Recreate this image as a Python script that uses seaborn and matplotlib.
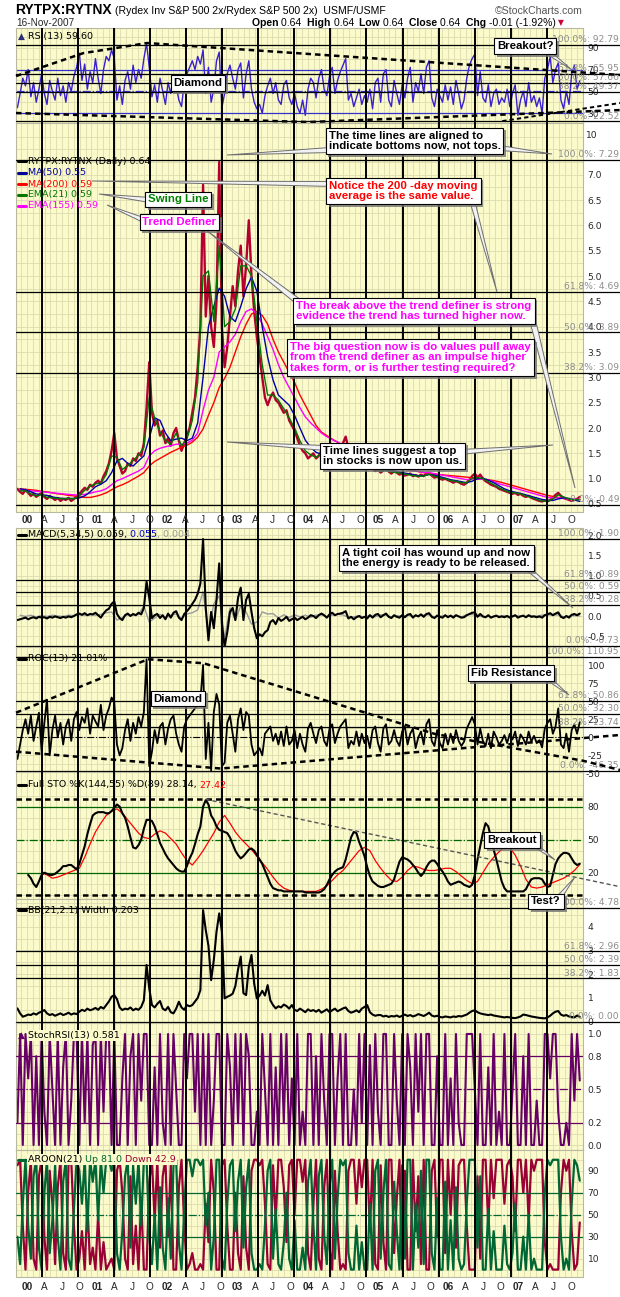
import matplotlib
matplotlib.use("Agg")
import numpy as np
import pandas as pd
import matplotlib.pyplot as plt
import seaborn as sns
from matplotlib.lines import Line2D
from matplotlib.patches import Polygon
from matplotlib.transforms import blended_transform_factory
import matplotlib.patheffects as pe

# ============================================================
# DATA (bi-weekly / 4-weekly)
# ============================================================

dates14 = pd.date_range(end="2007-11-16", periods=210, freq="14D")
dates28 = pd.date_range(end="2007-11-16", periods=105, freq="28D")

close = [0.80, 0.74, 0.70, 0.78, 0.72, 0.66, 0.70, 0.64, 0.68, 0.72,
         0.64, 0.60, 0.66, 0.62, 0.58, 0.62, 0.56, 0.60, 0.58, 0.62,
         0.56, 0.60, 0.64, 0.70, 0.76, 0.82, 0.78, 0.88, 0.84, 0.92,
         0.96, 0.90, 1.05, 1.15, 1.30, 1.55, 1.90, 1.40, 1.25, 1.10,
         1.15, 1.30, 1.25, 1.40, 1.35, 1.50, 1.45, 1.70, 2.40, 3.30,
         2.30, 2.05, 2.15, 1.85, 1.95, 1.70, 1.80, 1.65, 1.90, 2.00,
         1.75, 1.55, 1.70, 1.85, 2.00, 2.30, 2.60, 3.20, 4.00, 6.80,
         4.20, 5.00, 4.00, 3.60, 4.50, 7.25, 4.00, 3.20, 3.60, 4.20,
         4.80, 4.40, 5.10, 5.60, 4.60, 5.20, 6.10, 5.00, 4.30, 3.80,
         3.40, 3.00, 2.60, 2.45, 2.60, 2.70, 2.55, 2.50, 2.40, 2.30,
         2.35, 2.15, 2.05, 1.95, 1.80, 1.65, 1.55, 1.50, 1.40, 1.45,
         1.50, 1.40, 1.45, 1.55, 1.50, 1.45, 1.55, 1.60, 1.50, 1.55,
         1.60, 1.70, 1.83, 1.60, 1.50, 1.45, 1.40, 1.35, 1.30, 1.28,
         1.25, 1.22, 1.20, 1.15, 1.18, 1.12, 1.16, 1.20, 1.14, 1.10,
         1.15, 1.12, 1.08, 1.10, 1.06, 1.08, 1.10, 1.05, 1.07, 1.04,
         1.08, 1.05, 1.10, 1.12, 1.06, 1.02, 1.04, 1.00, 0.98, 1.00,
         0.97, 0.95, 0.92, 0.95, 0.93, 0.90, 0.88, 0.92, 0.98, 1.05,
         1.10, 1.02, 1.08, 1.00, 0.95, 0.92, 0.88, 0.86, 0.84, 0.80,
         0.78, 0.76, 0.74, 0.72, 0.70, 0.72, 0.68, 0.70, 0.66, 0.64,
         0.66, 0.62, 0.60, 0.58, 0.56, 0.55, 0.57, 0.55, 0.58, 0.62,
         0.68, 0.72, 0.66, 0.62, 0.60, 0.58, 0.56, 0.58, 0.60, 0.64]

ma50 = [0.80, 0.78, 0.74, 0.70, 0.68, 0.67, 0.64, 0.62, 0.61, 0.61,
        0.61, 0.62, 0.66, 0.74, 0.84, 0.89, 0.96, 1.12, 1.35, 1.40,
        1.30, 1.25, 1.35, 1.45, 1.80, 2.20, 2.15, 1.90, 1.75, 1.78,
        1.80, 1.75, 1.80, 2.10, 3.00, 4.00, 4.40, 4.76, 4.60, 4.20,
        4.10, 4.40, 4.75, 4.98, 4.70, 4.00, 3.40, 2.95, 2.65, 2.55,
        2.45, 2.25, 2.00, 1.76, 1.62, 1.52, 1.48, 1.50, 1.52, 1.54,
        1.58, 1.62, 1.58, 1.50, 1.40, 1.30, 1.24, 1.18, 1.16, 1.16,
        1.14, 1.12, 1.10, 1.08, 1.06, 1.06, 1.08, 1.07, 1.04, 1.01,
        0.98, 0.96, 0.94, 0.92, 0.95, 1.00, 1.01, 0.97, 0.92, 0.86,
        0.80, 0.76, 0.73, 0.71, 0.68, 0.65, 0.62, 0.59, 0.57, 0.57,
        0.60, 0.62, 0.61, 0.58, 0.55]

ma200 = [0.80, 0.79, 0.78, 0.77, 0.75, 0.74, 0.72, 0.70, 0.69, 0.67,
         0.66, 0.64, 0.63, 0.63, 0.65, 0.68, 0.72, 0.78, 0.84, 0.88,
         0.93, 0.99, 1.05, 1.12, 1.25, 1.34, 1.40, 1.46, 1.52, 1.57,
         1.62, 1.66, 1.72, 1.82, 1.98, 2.25, 2.50, 2.80, 2.98, 3.20,
         3.50, 3.80, 4.05, 4.25, 4.30, 4.22, 4.05, 3.75, 3.50, 3.30,
         3.10, 2.90, 2.65, 2.45, 2.25, 2.05, 1.92, 1.85, 1.78, 1.72,
         1.65, 1.60, 1.56, 1.52, 1.48, 1.44, 1.40, 1.36, 1.32, 1.28,
         1.24, 1.21, 1.18, 1.16, 1.14, 1.12, 1.10, 1.09, 1.08, 1.07,
         1.06, 1.05, 1.04, 1.03, 1.02, 1.00, 0.99, 0.98, 0.96, 0.94,
         0.91, 0.88, 0.85, 0.82, 0.79, 0.76, 0.73, 0.70, 0.67, 0.65,
         0.63, 0.61, 0.60, 0.59, 0.59]

ema21 = [0.76, 0.76, 0.70, 0.66, 0.69, 0.63, 0.62, 0.61, 0.60, 0.61,
         0.60, 0.66, 0.77, 0.85, 0.90, 0.91, 1.08, 1.45, 1.42, 1.18,
         1.26, 1.36, 1.46, 1.62, 2.60, 2.20, 1.92, 1.75, 1.68, 1.90,
         1.65, 1.78, 2.15, 2.90, 5.00, 5.10, 4.10, 5.60, 4.00, 4.10,
         4.35, 5.20, 5.20, 5.00, 4.10, 3.25, 2.65, 2.65, 2.55, 2.38,
         2.20, 2.00, 1.75, 1.55, 1.47, 1.42, 1.50, 1.48, 1.56, 1.55,
         1.66, 1.62, 1.50, 1.40, 1.31, 1.25, 1.18, 1.14, 1.17, 1.13,
         1.12, 1.10, 1.08, 1.06, 1.05, 1.05, 1.09, 1.05, 1.01, 1.00,
         0.96, 0.95, 0.92, 0.92, 1.01, 1.02, 1.00, 0.94, 0.88, 0.82,
         0.77, 0.73, 0.72, 0.70, 0.66, 0.63, 0.59, 0.56, 0.55, 0.60,
         0.68, 0.64, 0.60, 0.58, 0.59]

ema155 = [0.78, 0.77, 0.76, 0.75, 0.74, 0.73, 0.72, 0.71, 0.70, 0.69,
          0.68, 0.68, 0.69, 0.71, 0.74, 0.76, 0.80, 0.88, 0.96, 1.00,
          1.05, 1.10, 1.15, 1.22, 1.45, 1.55, 1.60, 1.63, 1.65, 1.68,
          1.68, 1.70, 1.76, 1.90, 2.35, 2.75, 3.00, 3.50, 3.60, 3.70,
          3.85, 4.10, 4.30, 4.35, 4.25, 4.05, 3.80, 3.55, 3.25, 3.00,
          2.80, 2.60, 2.40, 2.22, 2.10, 2.00, 1.90, 1.83, 1.77, 1.72,
          1.67, 1.62, 1.58, 1.52, 1.46, 1.41, 1.36, 1.32, 1.29, 1.26,
          1.23, 1.20, 1.18, 1.16, 1.14, 1.12, 1.12, 1.10, 1.08, 1.06,
          1.04, 1.02, 1.00, 0.98, 0.99, 0.99, 0.99, 0.97, 0.94, 0.90,
          0.87, 0.84, 0.81, 0.78, 0.75, 0.72, 0.69, 0.66, 0.63, 0.62,
          0.62, 0.61, 0.60, 0.59, 0.59]

rsi = [35, 48, 62, 55, 70, 45, 58, 40, 52, 66,
       48, 38, 60, 50, 42, 62, 46, 55, 40, 58,
       50, 64, 72, 85, 60, 75, 52, 68, 58, 80,
       62, 48, 70, 82, 78, 88, 80, 42, 55, 38,
       60, 68, 52, 74, 58, 70, 62, 80, 94, 72,
       45, 56, 40, 62, 50, 38, 58, 48, 65, 55,
       42, 36, 58, 66, 72, 78, 70, 82, 75, 88,
       48, 72, 40, 52, 78, 86, 35, 48, 66, 74,
       62, 52, 70, 76, 44, 66, 78, 52, 40, 34,
       38, 30, 46, 55, 62, 48, 58, 42, 38, 56,
       60, 44, 38, 48, 36, 30, 42, 28, 52, 62,
       58, 44, 62, 70, 52, 46, 64, 72, 48, 60,
       68, 74, 80, 42, 48, 36, 44, 52, 38, 46,
       40, 52, 34, 58, 62, 40, 66, 70, 42, 36,
       60, 48, 38, 56, 44, 62, 72, 40, 58, 50,
       66, 48, 72, 78, 44, 36, 52, 46, 40, 56,
       42, 54, 38, 60, 48, 34, 42, 62, 74, 80,
       84, 46, 68, 44, 40, 56, 36, 48, 52, 38,
       44, 40, 52, 36, 48, 56, 28, 42, 50, 36,
       58, 40, 46, 36, 44, 30, 62, 70, 82, 58,
       70, 76, 42, 34, 50, 38, 66, 74, 52, 59.6]

macd = [-0.10, -0.08, -0.06, -0.04, -0.08, -0.05, -0.03, -0.06, -0.02, -0.04,
        -0.03, -0.06, -0.02, -0.04, -0.01, -0.03, -0.05, -0.02, -0.04, -0.01,
        -0.03, 0.00, 0.04, 0.06, 0.03, 0.07, 0.02, 0.05, 0.04, 0.08,
        0.02, -0.04, 0.06, 0.14, 0.18, 0.30, 0.36, 0.05, -0.05, -0.10,
        0.02, 0.06, 0.00, 0.05, 0.02, 0.08, 0.04, 0.20, 0.85, 0.45,
        -0.05, 0.02, 0.05, -0.05, 0.02, -0.08, 0.06, -0.04, 0.08, 0.12,
        -0.04, -0.10, 0.05, 0.12, 0.20, 0.30, 0.40, 0.55, 0.80, 1.90,
        0.20, -0.60, 0.10, -0.30, 0.40, 1.30, -0.20, -0.75, -0.40, 0.10,
        0.20, -0.10, 0.45, 0.70, -0.10, 0.40, 0.55, 0.10, -0.30, -0.55,
        -0.45, -0.50, -0.40, -0.35, -0.15, -0.10, -0.20, -0.05, -0.12, -0.08,
        -0.02, -0.12, -0.08, -0.04, -0.10, -0.06, -0.02, -0.08, -0.04, 0.02,
        0.00, -0.05, 0.02, 0.06, 0.02, -0.04, 0.04, 0.08, 0.02, 0.05,
        0.06, 0.08, 0.12, -0.06, -0.02, -0.08, -0.03, 0.00, -0.05, -0.02,
        -0.06, 0.02, -0.04, 0.03, 0.05, -0.03, 0.02, 0.06, -0.02, -0.05,
        0.02, -0.02, -0.04, 0.02, -0.03, 0.03, 0.05, -0.04, 0.02, -0.01,
        0.04, -0.02, 0.05, 0.07, -0.02, -0.05, 0.01, -0.02, -0.04, 0.02,
        -0.03, 0.01, -0.04, 0.02, -0.01, -0.04, -0.03, 0.02, 0.05, 0.08,
        0.09, -0.02, 0.05, -0.01, -0.03, 0.02, -0.04, -0.01, 0.01, -0.03,
        -0.01, -0.03, 0.00, -0.04, -0.01, 0.02, -0.04, -0.01, 0.01, -0.03,
        0.02, -0.02, -0.01, -0.03, -0.01, -0.04, 0.02, 0.04, 0.07, 0.02,
        0.06, 0.09, -0.02, -0.05, 0.00, -0.04, 0.03, 0.05, 0.02, 0.06]

macd_hist = [0.02, -0.01, 0.02, -0.02, 0.01, -0.01, 0.02, 0.00, -0.01, 0.02,
             0.01, 0.03, 0.02, 0.03, 0.02, 0.04, 0.08, 0.10, -0.10, -0.04,
             0.03, 0.02, 0.04, 0.25, -0.15, -0.05, 0.04, -0.04, 0.02, 0.05,
             -0.06, 0.05, 0.08, 0.15, 0.60, -0.40, 0.30, 0.50, -0.55, 0.20,
             -0.10, 0.25, 0.10, -0.20, -0.15, 0.10, 0.05, 0.06, -0.05, 0.03,
             -0.04, 0.03, -0.02, 0.02, -0.03, 0.02, 0.03, -0.02, 0.02, 0.04,
             0.03, -0.04, -0.02, 0.01, -0.03, 0.02, -0.02, 0.03, 0.02, -0.02,
             0.01, -0.01, 0.02, -0.01, 0.01, 0.02, 0.03, -0.02, 0.00, 0.01,
             -0.01, 0.01, -0.02, 0.03, 0.04, 0.00, -0.02, -0.01, -0.02, 0.00,
             0.01, -0.01, 0.01, 0.00, -0.02, 0.01, 0.00, 0.02, 0.03, 0.02,
             0.03, -0.02, 0.00, 0.01, 0.00]

roc = [-30, -10, 10, 25, 5, 30, -5, 15, 34, -20,
       20, 52, -25, 10, 30, 0, 20, -10, 15, 25,
       -5, 25, 35, 10, 28, 20, 40, 5, 30, 22,
       15, 45, 10, 30, 40, 55, 48, -10, -25, -15,
       10, 25, -5, 20, 5, 28, 15, 35, 108, -40,
       -20, 10, -8, 15, 20, -10, 12, 25, 30, 5,
       -10, -20, 15, 25, 30, 35, 40, 45, 50, 100,
       -30, 20, -46, 35, 60, 45, -40, -35, 20, 30,
       5, -20, 25, 40, 10, 35, 30, -10, -25, -20,
       -15, -25, 5, 10, 15, -5, 5, -10, 8, -12,
       15, -10, -5, 10, -15, 5, -10, -20, 12, 20,
       5, -8, 10, 15, -5, -12, 12, 18, -8, 5,
       15, 20, 25, -15, -5, -10, 8, -12, 5, -8,
       2, -15, 10, 15, -8, -20, 12, 18, -10, -5,
       10, -5, -12, 8, 15, -10, 5, 12, -15, 0,
       8, -10, 18, 25, -5, -12, 10, -8, -15, 5,
       -10, 5, -8, 10, -5, -12, -6, 12, 20, 28,
       18, -10, 12, -5, -12, 5, -15, 8, 0, -10,
       -5, 3, -8, 5, -3, 8, -12, 4, -2, -10,
       8, -6, 2, -8, -4, -14, 12, 20, 25, 5,
       15, 40, -10, -15, 5, -20, 10, 18, 5, 21.01]

sto_k = [np.nan, np.nan, np.nan, np.nan, 18, 15, 10, 7, 12, 18,
         20, 19, 18, 18, 19, 21, 23, 26, 26, 27,
         27, 25, 23, 28, 36, 44, 55, 64, 72, 74,
         75, 75, 75, 74, 74, 76, 79, 82, 80, 74,
         70, 62, 52, 43, 42, 45, 50, 60, 68, 68,
         67, 62, 55, 47, 42, 37, 33, 30, 27, 24,
         22, 21, 21, 26, 33, 38, 46, 55, 62, 80,
         86, 82, 72, 68, 62, 59, 58, 57, 56, 52,
         46, 40, 36, 33, 35, 38, 41, 42, 40, 36,
         32, 28, 22, 16, 10, 6, 5, 4, 4, 3,
         3, 3, 3, 3, 3, 3, 3, 2, 2, 2,
         2, 2, 2, 3, 5, 9, 14, 18, 21, 23,
         24, 25, 32, 42, 52, 57, 56, 48, 42, 35,
         25, 17, 12, 10, 8, 7, 7, 8, 9, 10,
         14, 22, 30, 34, 33, 32, 30, 27, 24, 20,
         17, 20, 25, 29, 31, 31, 28, 24, 21, 17,
         12, 9, 10, 11, 12, 11, 9, 8, 7, 9,
         18, 32, 44, 56, 65, 62, 52, 41, 32, 22,
         12, 6, 3, 3, 3, 3, 3, 3, 3, 5,
         10, 14, 15, 15, 15, 14, 10, 7, 8, 18,
         28, 33, 36, 38, 38, 37, 33, 29, 27, 28.14]

sto_d = [np.nan, np.nan, np.nan, np.nan, 20, 18, 15, 16, 18, 20,
         22, 24, 34, 46, 57, 65, 72, 76, 78, 74,
         68, 62, 56, 52, 51, 55, 58, 56, 51, 46,
         38, 31, 27, 33, 40, 48, 56, 66, 72, 65,
         57, 51, 46, 41, 35, 29, 23, 16, 10, 6,
         4, 3, 3, 3, 3, 3, 5, 8, 13, 18,
         22, 28, 34, 40, 43, 40, 31, 24, 18, 13,
         12, 16, 22, 26, 25, 23, 22, 22, 23, 24,
         24, 21, 17, 13, 10, 12, 20, 28, 34, 39,
         43, 43, 36, 26, 14, 7, 6, 7, 9, 11,
         13, 15, 18, 22, 27.42]

bb_width = [0.56, 0.35, 0.21, 0.25, 0.30, 0.28, 0.35, 0.30, 0.38, 0.42,
            0.49, 0.35, 0.28, 0.32, 0.25, 0.30, 0.35, 0.28, 0.32, 0.38,
            0.30, 0.35, 0.32, 0.42, 0.50, 0.45, 0.55, 0.48, 0.52, 0.58,
            0.50, 0.62, 0.55, 0.70, 0.85, 1.05, 1.12, 0.95, 0.60, 0.49,
            0.55, 0.52, 0.60, 0.48, 0.55, 0.50, 0.62, 0.90, 2.39, 1.40,
            0.70, 0.60, 0.75, 0.87, 0.55, 0.48, 0.62, 0.40, 0.35, 0.55,
            0.84, 0.60, 0.50, 0.70, 0.65, 0.70, 0.85, 1.00, 1.33, 4.70,
            3.86, 3.20, 1.75, 2.60, 3.79, 4.56, 3.80, 0.98, 1.05, 1.10,
            1.18, 1.50, 2.20, 2.74, 1.20, 1.12, 2.30, 2.81, 1.60, 0.98,
            1.10, 1.30, 1.10, 1.54, 0.90, 0.70, 0.56, 0.65, 0.60, 0.72,
            0.66, 0.55, 0.70, 0.50, 0.45, 0.55, 0.48, 0.40, 0.52, 0.45,
            0.49, 0.42, 0.50, 0.38, 0.45, 0.52, 0.40, 0.48, 0.55, 0.44,
            0.50, 0.56, 0.60, 0.45, 0.38, 0.42, 0.48, 0.40, 0.55, 0.62,
            0.70, 0.40, 0.30, 0.25, 0.28, 0.28, 0.22, 0.25, 0.20, 0.24,
            0.22, 0.26, 0.20, 0.25, 0.30, 0.24, 0.28, 0.22, 0.26, 0.32,
            0.28, 0.24, 0.30, 0.38, 0.26, 0.22, 0.25, 0.20, 0.18, 0.22,
            0.20, 0.18, 0.22, 0.20, 0.24, 0.22, 0.26, 0.30, 0.38, 0.45,
            0.48, 0.40, 0.35, 0.32, 0.30, 0.28, 0.30, 0.26, 0.24, 0.22,
            0.20, 0.18, 0.20, 0.18, 0.16, 0.15, 0.18, 0.22, 0.30, 0.28,
            0.25, 0.22, 0.20, 0.18, 0.16, 0.15, 0.14, 0.18, 0.25, 0.35,
            0.42, 0.45, 0.30, 0.25, 0.28, 0.22, 0.20, 0.18, 0.26, 0.203]

stoch_rsi = [0.2, 1.0, 0.0, 1.0, 0.6, 1.0, 0.0, 0.8, 0.0, 1.0,
             0.3, 0.0, 1.0, 0.5, 0.0, 1.0, 0.0, 0.7, 1.0, 0.0,
             0.4, 1.0, 1.0, 0.0, 1.0, 0.2, 1.0, 0.0, 0.9, 1.0,
             0.0, 1.0, 0.3, 1.0, 1.0, 0.0, 1.0, 0.0, 0.0, 0.6,
             1.0, 0.0, 0.8, 1.0, 0.0, 1.0, 0.4, 1.0, 1.0, 0.0,
             0.0, 0.7, 0.0, 1.0, 0.2, 0.0, 1.0, 0.0, 1.0, 0.5,
             0.0, 0.0, 1.0, 0.6, 1.0, 1.0, 0.3, 1.0, 0.0, 1.0,
             0.0, 1.0, 0.0, 0.4, 1.0, 1.0, 0.0, 0.0, 1.0, 0.7,
             0.0, 1.0, 0.2, 1.0, 0.0, 1.0, 0.8, 0.0, 0.0, 0.3,
             0.0, 1.0, 0.5, 0.0, 1.0, 0.0, 0.7, 0.0, 1.0, 0.2,
             1.0, 0.0, 0.6, 0.0, 1.0, 0.0, 0.3, 0.0, 1.0, 1.0,
             0.0, 0.8, 0.0, 1.0, 0.4, 0.0, 1.0, 1.0, 0.0, 0.6,
             1.0, 0.0, 1.0, 0.0, 0.0, 0.5, 0.0, 1.0, 0.2, 1.0,
             0.0, 0.9, 0.0, 1.0, 0.3, 0.0, 1.0, 1.0, 0.0, 0.0,
             1.0, 0.4, 0.0, 1.0, 0.0, 1.0, 0.7, 0.0, 1.0, 0.3,
             1.0, 0.0, 1.0, 1.0, 0.0, 0.0, 0.8, 0.0, 0.0, 1.0,
             0.0, 0.6, 0.0, 1.0, 0.2, 0.0, 0.0, 1.0, 1.0, 1.0,
             0.5, 0.0, 1.0, 0.0, 0.0, 0.7, 0.0, 1.0, 0.0, 0.3,
             0.0, 1.0, 0.0, 0.0, 0.5, 1.0, 0.0, 0.0, 0.8, 0.0,
             1.0, 0.0, 0.0, 0.4, 0.0, 0.0, 1.0, 1.0, 0.6, 1.0,
             1.0, 0.3, 0.0, 0.0, 0.2, 0.0, 1.0, 0.4, 1.0, 0.581]

aroon_up = [30, 5, 60, 100, 40, 10, 85, 100, 20, 0,
            70, 100, 15, 45, 95, 30, 0, 80, 100, 10,
            0, 55, 100, 90, 60, 100, 35, 100, 80, 100,
            45, 100, 70, 100, 100, 90, 100, 15, 0, 35,
            85, 100, 20, 95, 60, 100, 40, 100, 100, 30,
            5, 50, 0, 75, 20, 0, 65, 10, 95, 100,
            25, 0, 55, 100, 100, 85, 100, 100, 95, 100,
            40, 70, 0, 30, 100, 100, 10, 0, 60, 95,
            100, 35, 80, 100, 20, 75, 100, 15, 0, 0,
            5, 0, 40, 90, 100, 10, 55, 5, 0, 25,
            70, 10, 0, 45, 0, 0, 20, 0, 80, 100,
            40, 0, 85, 100, 30, 5, 75, 100, 10, 65,
            100, 95, 100, 15, 0, 0, 40, 0, 25, 0,
            0, 60, 0, 90, 100, 10, 70, 100, 5, 0,
            80, 35, 0, 95, 10, 100, 100, 0, 60, 20,
            90, 5, 100, 100, 15, 0, 65, 0, 0, 80,
            0, 45, 0, 75, 10, 0, 5, 60, 100, 100,
            100, 20, 85, 0, 0, 55, 0, 35, 0, 0,
            0, 40, 5, 0, 15, 60, 0, 0, 30, 0,
            50, 0, 10, 0, 0, 0, 70, 100, 95, 100,
            100, 100, 30, 0, 10, 0, 60, 100, 95, 81]

aroon_down = [95, 100, 40, 0, 70, 100, 10, 0, 85, 100,
              30, 0, 90, 60, 5, 75, 100, 15, 0, 95,
              100, 40, 0, 10, 35, 0, 60, 5, 20, 0,
              50, 0, 25, 0, 5, 10, 0, 90, 100, 70,
              10, 0, 85, 5, 40, 0, 65, 0, 0, 80,
              100, 45, 100, 20, 85, 100, 30, 95, 0, 0,
              75, 100, 40, 0, 5, 15, 0, 0, 5, 0,
              60, 25, 100, 70, 0, 0, 95, 100, 40, 0,
              0, 70, 15, 0, 85, 20, 0, 90, 100, 100,
              95, 100, 60, 5, 0, 95, 45, 100, 100, 75,
              25, 95, 100, 50, 100, 100, 80, 100, 15, 0,
              60, 100, 10, 0, 75, 100, 20, 0, 90, 35,
              0, 5, 0, 90, 100, 100, 60, 100, 75, 100,
              100, 35, 100, 5, 0, 95, 25, 0, 100, 100,
              15, 65, 100, 0, 90, 0, 0, 100, 35, 85,
              5, 100, 0, 0, 90, 100, 30, 100, 100, 15,
              100, 50, 100, 20, 95, 100, 100, 40, 0, 0,
              0, 85, 10, 100, 100, 40, 100, 65, 100, 100,
              100, 60, 95, 100, 85, 35, 100, 100, 70, 100,
              45, 100, 90, 100, 100, 100, 25, 0, 5, 0,
              0, 0, 70, 100, 90, 100, 35, 0, 5, 42.9]

# fibonacci levels shown on the chart
rsi_fib = [92.79, 65.95, 57.66, 49.37, 22.52]
price_fib = [7.29, 4.69, 3.89, 3.09, 0.49]
macd_fib = [1.90, 0.89, 0.59, 0.28, -0.73]
roc_fib = [110.95, 50.86, 32.30, 13.74, -46.35]
bb_fib = [4.78, 2.96, 2.39, 1.83, 0.00]
fib_pct = ["100.0%", "61.8%", "50.0%", "38.2%", "0.0%"]

# hand-drawn cycle ("time") lines, decimal years
time_lines = [2000.214, 2000.728, 2001.241, 2001.755, 2002.268, 2002.782, 2003.296,
              2003.809, 2004.323, 2004.836, 2005.350, 2005.864, 2006.377, 2006.891, 2007.404]

# ============================================================
# STYLE / LAYOUT HELPERS
# ============================================================

sns.set_style("white")
plt.rcParams["font.family"] = ["DejaVu Sans"]

W, H = 620, 1297
BG = "#fafacb"
GRID = "#dcdcb0"
NARROW = ["Liberation Sans Narrow", "Liberation Sans", "DejaVu Sans"]
ARIAL = ["Liberation Sans", "DejaVu Sans"]


def yr(t):
    return pd.Timestamp("2000-01-01") + pd.to_timedelta((t - 2000) * 365.25, unit="D")


X0, X1, XFAR = yr(1999.843), yr(2007.916), yr(2008.447)
MONTHS = pd.date_range("1999-12-01", "2007-11-01", freq="MS")


def fx(x):
    return x / W


def fy(y):
    return 1 - y / H


fig = plt.figure(figsize=(W / 100, H / 100), dpi=100)
R = fig.canvas.get_renderer()


def panel(top, bottom, ylim, ticks, labels, grid):
    ax = fig.add_axes([fx(16), fy(bottom), (582.7 - 16) / W, (bottom - top) / H])
    ax.set_facecolor(BG)
    for v in grid:
        ax.axhline(v, color=GRID, lw=0.6, zorder=0.5)
    ax.vlines(MONTHS, ylim[0], ylim[1], color=GRID, lw=0.6, zorder=0.5)
    ax.yaxis.tick_right()
    ax.set_yticks(ticks)
    ax.set_yticklabels(labels)
    ax.tick_params(axis="y", length=0, pad=3.5, labelsize=6.6)
    ax.tick_params(axis="x", length=0, labelbottom=False)
    for s in ax.spines.values():
        s.set_color("#b9b9a0")
        s.set_linewidth(0.8)
    ax._lims = ylim
    return ax


def finish(ax):
    ax.set_xlim(X0, X1)
    ax.set_ylim(*ax._lims)
    ax.set_xticks([])
    ax.set_xlabel("")
    ax.set_ylabel("")


def fib(ax, levels):
    for v, p in zip(levels, fib_pct):
        ax.plot([X0, XFAR], [v, v], color="black", lw=0.9, clip_on=False, zorder=3)
        ax.annotate(f"{p}: {v:.2f}", xy=(fx(619), v), xycoords=(fig.transFigure, ax.transData),
                    xytext=(0, 0.5), textcoords="offset points", ha="right", va="bottom",
                    fontsize=6.6, color="#8c8c8c", annotation_clip=False, zorder=4)


def trend(ax, pts, color="black", lw=1.8, dashes=(2.2, 1.6)):
    ax.plot([yr(t) for t, _ in pts], [v for _, v in pts], color=color, lw=lw,
            dashes=dashes, clip_on=False, zorder=4)


def rich(x, y, parts, size=6.8, family="DejaVu Sans", z=7, bg=None, va="center"):
    for txt, col, wt in parts:
        t = fig.text(fx(x), fy(y), txt, color=col, fontsize=size, fontweight=wt,
                     family=family, ha="left", va=va, zorder=z)
        if bg:
            t.set_bbox(dict(fc=bg, ec="none", pad=0.8))
        x = t.get_window_extent(renderer=R).x1
    return x


def legend(y, parts, dash=None, icon=None, bg=None):
    x = 18
    if dash:
        fig.add_artist(Line2D([fx(18), fx(25.5)], [fy(y), fy(y)], transform=fig.transFigure,
                              color=dash, lw=2.2, zorder=8))
        x = 28
    if icon:
        fig.text(fx(17.5), fy(y), "▲", color=icon, fontsize=6.5, ha="left", va="center", zorder=8)
        x = 28
    rich(x, y, parts, bg=bg, z=8)


def callout(x, y, text, color="black"):
    t = fig.text(fx(x), fy(y), text, color=color, fontsize=8.2, fontweight="bold", family=ARIAL,
                 ha="center", va="center", multialignment="left", linespacing=1.1, zorder=12,
                 bbox=dict(boxstyle="square,pad=0.26", fc="white", ec="black", lw=0.8))
    t.get_bbox_patch().set_path_effects(
        [pe.withSimplePatchShadow(offset=(2, -2), shadow_rgbFace="0.45", alpha=0.8)])


def pointer(bx, by, tx, ty, w=5.0):
    d = np.array([tx - bx, ty - by], float)
    d /= np.hypot(*d)
    n = np.array([-d[1], d[0]]) * w / 2
    pts = [(bx + n[0], by + n[1]), (bx - n[0], by - n[1]), (tx, ty)]
    fig.add_artist(Polygon([(fx(a), fy(b)) for a, b in pts], closed=True, transform=fig.transFigure,
                           fc="#f2f2f2", ec="#6e6e6e", lw=0.7, zorder=11))


# ============================================================
# PANELS
# ============================================================

# --- RSI ---
ax_rsi = panel(28, 122.5, (21.4, 108.1), [30, 50, 70, 90], ["30", "50", "70", "90"], range(20, 110, 10))
sns.lineplot(x=dates14, y=rsi, ax=ax_rsi, color="#3a1fd0", lw=1.0, estimator=None, errorbar=None)
for v, ls in [(70, "-"), (30, "-"), (50, "-.")]:
    ax_rsi.axhline(v, color="#3333cc", lw=0.9, ls=ls, zorder=2)
fib(ax_rsi, rsi_fib)
trend(ax_rsi, [(1999.843, 64), (2000.80, 85), (2001.71, 94.3), (2008.447, 65)])
trend(ax_rsi, [(1999.843, 30.1), (2004.0, 21.8), (2008.447, 32.8)])
trend(ax_rsi, [(2006.77, 22.7), (2008.447, 39.3)], lw=1.4)
finish(ax_rsi)

# --- Price + moving averages ---
ax_px = panel(122.5, 512, (0.342, 8.03), np.arange(0.5, 7.01, 0.5),
              [f"{v:.1f}" for v in np.arange(0.5, 7.01, 0.5)], np.arange(0.25, 8.0, 0.25))
sns.lineplot(x=dates14, y=close, ax=ax_px, color="#b5002d", lw=1.7, estimator=None, errorbar=None)
sns.lineplot(x=dates28, y=ma200, ax=ax_px, color="#ff0000", lw=1.0, estimator=None, errorbar=None)
sns.lineplot(x=dates28, y=ema155, ax=ax_px, color="#ff00ff", lw=1.0, estimator=None, errorbar=None)
sns.lineplot(x=dates28, y=ma50, ax=ax_px, color="#0000aa", lw=1.0, estimator=None, errorbar=None)
sns.lineplot(x=dates28, y=ema21, ax=ax_px, color="#007700", lw=1.0, estimator=None, errorbar=None)
fib(ax_px, price_fib)
finish(ax_px)

# --- MACD ---
ax_macd = panel(528, 647, (-0.765, 2.173), [-0.5, 0, 0.5, 1.0, 1.5, 2.0],
                ["-0.5", "0.0", "0.5", "1.0", "1.5", "2.0"], np.arange(-0.75, 2.2, 0.25))
sns.lineplot(x=dates28, y=macd_hist, ax=ax_macd, color="#9a9a9a", lw=1.0, estimator=None, errorbar=None)
sns.lineplot(x=dates14, y=macd, ax=ax_macd, color="black", lw=1.5, estimator=None, errorbar=None)
fib(ax_macd, macd_fib)
finish(ax_macd)

# --- ROC ---
ax_roc = panel(647, 772, (-48.0, 124.9), [-25, 0, 25, 50, 75, 100],
               ["-25", "0", "25", "50", "75", "100"], np.arange(-37.5, 125, 12.5))
ax_roc.axhline(0, color="black", lw=0.8, ls="-.", zorder=2)
sns.lineplot(x=dates14, y=roc, ax=ax_roc, color="black", lw=1.3, estimator=None, errorbar=None)
fib(ax_roc, roc_fib)
trend(ax_roc, [(1999.843, 34), (2001.724, 108), (2002.516, 102.4), (2005.812, 4.6),
               (2007.92, -32.4), (2008.447, -45.2)])
trend(ax_roc, [(1999.843, -19.9), (2002.764, -43.2), (2008.447, 3.2)])
finish(ax_roc)

# --- Full Stochastic ---
ax_sto = panel(772, 899, (-3.9, 111.5), [20, 50, 80], ["20", "50", "80"], range(0, 110, 10))
for v, ls in [(80, "-"), (20, "-"), (50, "-.")]:
    ax_sto.axhline(v, color="#006600", lw=0.9, ls=ls, zorder=2)
ax_sto.axhline(87.3, color="black", lw=1.8, dashes=(2.2, 1.6), zorder=4)
ax_sto.axhline(-0.3, color="black", lw=1.8, dashes=(2.2, 1.6), zorder=4)
sns.lineplot(x=dates28, y=sto_d, ax=ax_sto, color="#ff0000", lw=0.9, estimator=None, errorbar=None)
sns.lineplot(x=dates14, y=sto_k, ax=ax_sto, color="black", lw=1.5, estimator=None, errorbar=None)
trend(ax_sto, [(2002.544, 86.7), (2008.447, 7.3)], color="#555555", lw=1.0, dashes=(3, 2))
finish(ax_sto)

# --- Bollinger Band width ---
ax_bb = panel(899, 1023, (-0.055, 5.166), [0, 1, 2, 3, 4], ["0", "1", "2", "3", "4"],
              np.arange(0, 5.1, 0.5))
sns.lineplot(x=dates14, y=bb_width, ax=ax_bb, color="black", lw=1.5, estimator=None, errorbar=None)
fib(ax_bb, bb_fib)
finish(ax_bb)

# --- StochRSI ---
ax_srsi = panel(1023, 1150, (-0.045, 1.099), [0, 0.2, 0.5, 0.8, 1.0],
                ["0.0", "0.2", "0.5", "0.8", "1.0"], np.arange(0, 1.05, 0.1))
sns.lineplot(x=dates14, y=stoch_rsi, ax=ax_srsi, color="#660066", lw=1.5, estimator=None, errorbar=None)
for v, ls in [(0.8, "-"), (0.2, "-"), (0.5, "-.")]:
    ax_srsi.axhline(v, color="#660066", lw=0.9, ls=ls, zorder=3)
finish(ax_srsi)

# --- Aroon ---
ax_ar = panel(1150, 1277, (-6.74, 108.9), [10, 30, 50, 70, 90], ["10", "30", "50", "70", "90"],
              range(0, 110, 10))
sns.lineplot(x=dates14, y=aroon_down, ax=ax_ar, color="#990033", lw=1.6, estimator=None, errorbar=None)
sns.lineplot(x=dates14, y=aroon_up, ax=ax_ar, color="#006633", lw=1.6, estimator=None, errorbar=None)
for v, ls in [(70, "-"), (30, "-"), (50, "-.")]:
    ax_ar.axhline(v, color="#006633", lw=0.9, ls=ls, zorder=3)
finish(ax_ar)

# --- overlay: vertical time lines + date labels ---
ov = fig.add_axes([fx(16), fy(1277), (582.7 - 16) / W, (1277 - 28) / H])
ov.patch.set_alpha(0)
ov.set_zorder(5)
ov.vlines([yr(t) for t in time_lines], 0, 1, color="black", lw=1.4)
ov.set_xlim(X0, X1)
ov.set_ylim(0, 1)
ov.axis("off")
lab_tr = blended_transform_factory(ov.transData, fig.transFigure)
for yy in range(2000, 2008):
    for m, lab in zip([1, 4, 7, 10], [f"{yy % 100:02d}", "A", "J", "O"]):
        for row in (520, 1287):
            ov.text(pd.Timestamp(yy, m, 1), fy(row), lab, transform=lab_tr, ha="center", va="center",
                    fontsize=7.2, family=ARIAL, fontweight="bold" if m == 1 else "normal", clip_on=False)

# ============================================================
# HEADER, LEGENDS, EXTRA AXIS TEXT
# ============================================================

x = rich(15, 10, [("RYTPX:RYTNX", "black", "bold")], size=10, family=NARROW)
rich(x + 3, 10.5, [("(Rydex Inv S&P 500 2x/Rydex S&P 500 2x)  USMF/USMF", "black", "normal")],
     size=7.6, family=ARIAL)
fig.text(fx(583), fy(10.5), "©StockCharts.com", ha="right", va="center", fontsize=7.6,
         family=ARIAL, color="#555555")
fig.text(fx(16), fy(22.5), "16-Nov-2007", ha="left", va="center", fontsize=7.2, family=ARIAL)
x = rich(252, 22.5, [("Open ", "black", "bold"), ("0.64  ", "black", "normal"),
                     ("High ", "black", "bold"), ("0.64  ", "black", "normal"),
                     ("Low ", "black", "bold"), ("0.64  ", "black", "normal"),
                     ("Close ", "black", "bold"), ("0.64  ", "black", "normal"),
                     ("Chg ", "black", "bold"), ("-0.01 (-1.92%)", "black", "normal")],
         size=7.5, family=ARIAL)
fig.text(fx(x + 2), fy(22.5), "▼", color="#cc0033", fontsize=5.5, ha="left", va="center")

fig.text(fx(586), fy(135), "10", fontsize=6.6, va="center", ha="left")
fig.text(fx(586), fy(774.5), "-50", fontsize=6.6, va="center", ha="left")

legend(36, [("RSI(13) 59.60", "black", "normal")], icon="#30307a")
legend(161, [("RYTPX:RYTNX (Daily) 0.64", "black", "normal")], dash="black")
legend(172.5, [("MA(50) 0.55", "#000099", "normal")], dash="#000099")
legend(184, [("MA(200) 0.59", "#ff0000", "normal")], dash="#ff0000")
legend(195, [("EMA(21) 0.59", "#007700", "normal")], dash="#007700")
legend(205.5, [("EMA(155) 0.59", "#ff00ff", "normal")], dash="#ff00ff")
legend(534.5, [("MACD(5,34,5) 0.059", "black", "normal"), (", 0.055", "#0000cc", "normal"),
               (", 0.004", "#9a9a9a", "normal")], dash="black")
legend(659, [("ROC(13) 21.01%", "black", "normal")], dash="black")
legend(785, [("Full STO %K(144,55) %D(89) 28.14, ", "black", "normal"), ("27.42", "#ff0000", "normal")],
       dash="black")
legend(910, [("BB(21,2.1) Width 0.203", "black", "normal")], dash="black")
legend(1035.5, [("StochRSI(13) 0.581", "black", "normal")], icon="#660066", bg=BG)
legend(1159.5, [("AROON(21) ", "black", "normal"), ("Up 81.0 ", "#006633", "normal"),
                ("Down 42.9", "#990033", "normal")], dash="#006633", bg=BG)

# ============================================================
# CALLOUTS
# ============================================================

pointer(545, 50, 572, 70)
callout(525, 46, "Breakout?")
callout(198, 83, "Diamond")

pointer(330, 150, 227, 155)
pointer(500, 148, 552, 154)
callout(414.5, 141, "The time lines are aligned to\nindicate bottoms now, not tops.")

pointer(335, 184, 92, 181)
pointer(472, 200, 497, 292)
callout(403.5, 191, "Notice the 200 -day moving\naverage is the same value.", color="#ff0000")

pointer(150, 200, 99, 194)
callout(178, 199.5, "Swing Line", color="#008000")
pointer(146, 221, 107, 205)
callout(179.5, 222, "Trend Definer", color="#ff00ff")

pointer(300, 303, 206, 230, w=6)
pointer(532, 318, 575, 488, w=6)
callout(414, 311, "The break above the trend definer is strong\nevidence the trend has turned higher now.",
        color="#ff00ff")
callout(410.5, 357.5, "The big question now is do values pull away\nfrom the trend definer as an impulse higher\n"
        "takes form, or is further testing required?", color="#ff00ff")

pointer(325, 448, 227, 442)
pointer(460, 452, 553, 445)
callout(392.5, 456, "Time lines suggest a top\nin stocks is now upon us.")

pointer(525, 566, 573, 608)
callout(436.5, 558, "A tight coil has wound up and now\nthe energy is ready to be released.")

callout(178, 698.5, "Diamond")
pointer(545, 676, 569, 695)
callout(511, 673, "Fib Resistance")

pointer(532, 843, 555, 860)
callout(512, 840, "Breakout")
pointer(558, 899, 575, 877)
callout(546, 901.5, "Test?")

fig.savefig("out.png", dpi=100, facecolor="white")
